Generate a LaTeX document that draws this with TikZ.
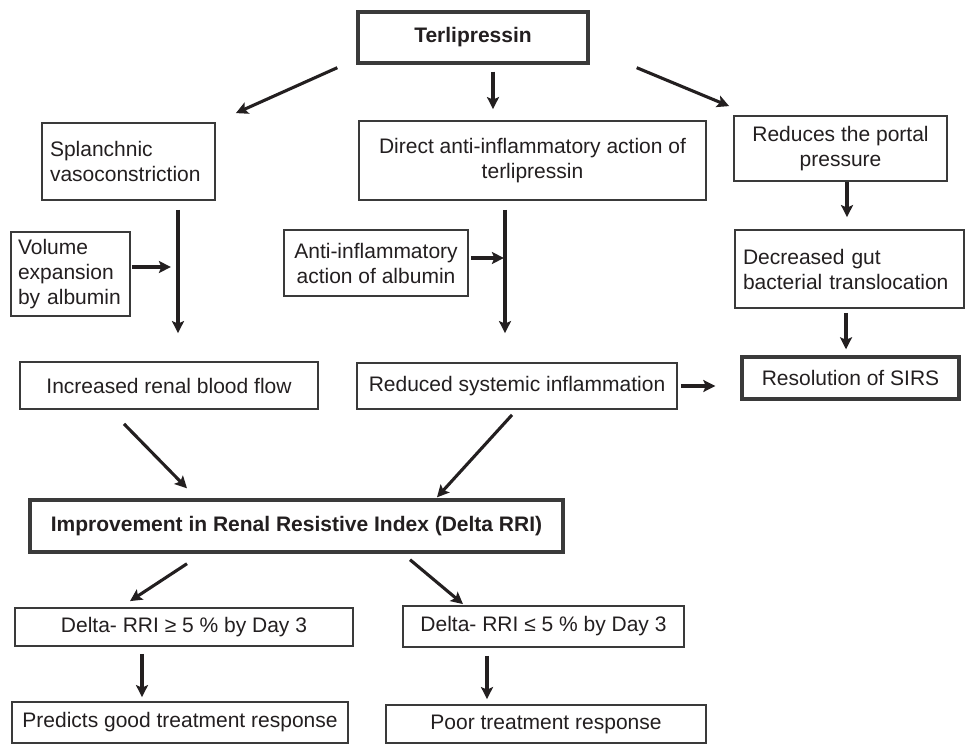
\documentclass[tikz,border=0pt]{standalone}
\usepackage{fontspec}
\setmainfont{Liberation Sans}
\usetikzlibrary{arrows.meta,calc}
\definecolor{ink}{HTML}{231F20}
\definecolor{edge}{HTML}{3A3A3A}
\tikzset{
  box/.style={draw=edge, line width=1.8pt, text=ink, inner sep=0pt,
    font=\fontsize{21}{25}\selectfont, align=center},
  thickbox/.style={box, line width=3.4pt},
  lbox/.style={box, align=left, inner xsep=8pt},
  arr/.style={draw=ink, line width=3.1pt, -{Stealth[length=12pt,width=12pt,inset=2.5pt]}},
}
\begin{document}
\begin{tikzpicture}[x=1pt,y=-1pt]
\useasboundingbox (0,0) rectangle (965,746);
\fill[white] (0,0) rectangle (965,746);

\node[thickbox, minimum width=230, minimum height=51, font=\fontsize{21}{25}\selectfont\bfseries] (terli) at (473,37.5) {Terlipressin};
\node[lbox, text width=157, minimum height=77] (splan) at (128.5,161.5) {Splanchnic\\vasoconstriction};
\node[box, minimum width=347, minimum height=79] (direct) at (532.5,160.5) {Direct anti-inflammatory action of\\terlipressin};
\node[box, minimum width=213, minimum height=65] (reduces) at (840.5,148.5) {Reduces the portal\\pressure};
\node[lbox, inner xsep=7pt, text width=105, minimum height=84] (volume) at (70.5,274) {Volume\\expansion\\by albumin};
\node[box, minimum width=184, minimum height=66] (antiinf) at (376,263) {Anti-inflammatory\\action of albumin};
\node[lbox, text width=213, minimum height=78] (decgut) at (849.5,269) {Decreased gut\\bacterial translocation};
\node[box, minimum width=298, minimum height=47] (incr) at (169,385.5) {Increased renal blood flow};
\node[box, minimum width=320, minimum height=46] (redsys) at (517,386) {Reduced systemic inflammation};
\node[thickbox, minimum width=217, minimum height=42] (sirs) at (850.5,378) {Resolution of SIRS};
\node[thickbox, minimum width=533, minimum height=52, font=\fontsize{21}{25}\selectfont\bfseries] (improve) at (296.5,526) {Improvement in Renal Resistive Index (Delta RRI)};
\node[box, minimum width=338, minimum height=38] (dge) at (184,627) {Delta- RRI ≥ 5 \% by Day 3};
\node[box, minimum width=281, minimum height=41] (dle) at (543.5,626.5) {Delta- RRI ≤ 5 \% by Day 3};
\node[box, minimum width=336, minimum height=41] (predicts) at (180,722.5) {Predicts good treatment response};
\node[box, minimum width=320, minimum height=38] (poor) at (546,724) {Poor treatment response};

% arrows from Terlipressin
\draw[arr] ($(terli.south west)+(-19,3)$) -- ($(splan.north east)+(20,-9)$);
\draw[arr] ($(terli.south)+(20,7)$) -- ($(direct.north)+(-39.5,-11)$);
\draw[arr] ($(terli.south east)+(47,3)$) -- ($(reduces.north west)+(-4,-9)$);
% left column
\coordinate (jl) at ($(volume.east)+(40,-7)$);
\draw[arr] ($(splan.south)+(49.5,9)$) -- ($(incr.north)+(9,-28)$);
\draw[arr] ($(volume.east)+(1,-7)$) -- (jl);
% middle column
\coordinate (jm) at ($(antiinf.east)+(35,-5)$);
\draw[arr] ($(direct.south)+(-27.5,9)$) -- ($(redsys.north)+(-12,-29)$);
\draw[arr] ($(antiinf.east)+(2,-5)$) -- (jm);
% right column
\draw[arr] ($(reduces.south)+(6.5,0)$) -- ($(decgut.north)+(-2.5,-12)$);
\draw[arr] ($(decgut.south)+(-3.5,4)$) -- ($(sirs.north)+(-4.5,-6)$);
\coordinate (js) at ($(sirs.west)+(-25,8)$);
\draw[arr] ($(redsys.east)+(3,0)$) -- (js);
% to improvement
\draw[arr] ($(incr.south)+(-45,14)$) -- ($(improve.north)+(-109.5,-10)$);
\draw[arr] ($(redsys.south)+(-5,5)$) -- ($(improve.north)+(140.5,-1)$);
% from improvement
\draw[arr] ($(improve.south)+(-109.5,10)$) -- ($(dge.north)+(-54,-6)$);
\draw[arr] ($(improve.south)+(113.5,6)$) -- ($(dle.north)+(-80.5,-1)$);
\draw[arr] ($(dge.south)+(-42,7)$) -- ($(predicts.north)+(-38,-4)$);
\draw[arr] ($(dle.south)+(-56.5,8)$) -- ($(poor.north)+(-59,-5)$);
\end{tikzpicture}
\end{document}
